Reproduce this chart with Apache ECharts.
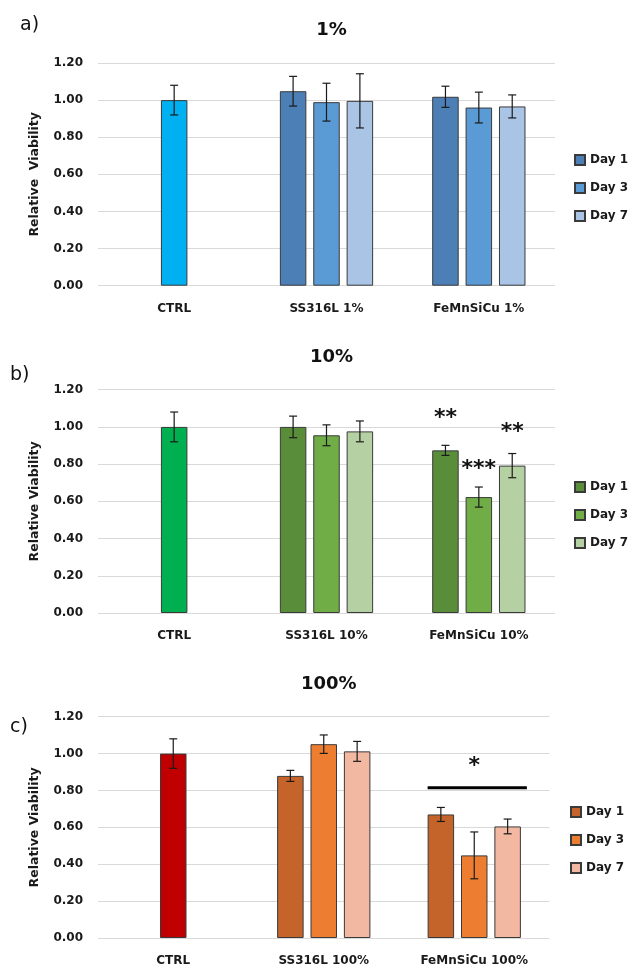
<!DOCTYPE html>
<html><head><meta charset="utf-8">
<script src="https://cdn.jsdelivr.net/npm/echarts@6/dist/echarts.min.js"></script>
<style>html,body{margin:0;padding:0;background:#fff}#c{width:629px;height:967px}</style>
</head><body><div id="c"></div>
<script>
// ---------- DATA ----------
const dayNames = ['Day 1', 'Day 3', 'Day 7'];
const yTickValues = [0, 0.2, 0.4, 0.6, 0.8, 1.0, 1.2];

// a) 1%
const categoriesA = ['CTRL', 'SS316L 1%', 'FeMnSiCu 1%'];
const ctrlA = [1.00, null, null];
const ctrlErrA = [0.08, null, null];
const day1A = [null, 1.048, 1.018];
const day3A = [null, 0.989, 0.960];
const day7A = [null, 0.996, 0.966];
const day1ErrA = [null, 0.080, 0.057];
const day3ErrA = [null, 0.102, 0.083];
const day7ErrA = [null, 0.146, 0.062];

// b) 10%
const categoriesB = ['CTRL', 'SS316L 10%', 'FeMnSiCu 10%'];
const ctrlB = [1.00, null, null];
const ctrlErrB = [0.08, null, null];
const day1B = [null, 1.000, 0.874];
const day3B = [null, 0.955, 0.623];
const day7B = [null, 0.976, 0.792];
const day1ErrB = [null, 0.058, 0.027];
const day3ErrB = [null, 0.056, 0.054];
const day7ErrB = [null, 0.056, 0.065];
// significance marks: [categoryIndex, dayIndex, yValue, text]
const starsB = [[2, 0, 1.064, '**'], [2, 1, 0.79, '***'], [2, 2, 0.989, '**']];

// c) 100%
const categoriesC = ['CTRL', 'SS316L 100%', 'FeMnSiCu 100%'];
const ctrlC = [1.00, null, null];
const ctrlErrC = [0.08, null, null];
const day1C = [null, 0.879, 0.670];
const day3C = [null, 1.051, 0.448];
const day7C = [null, 1.012, 0.605];
const day1ErrC = [null, 0.030, 0.038];
const day3ErrC = [null, 0.050, 0.127];
const day7ErrC = [null, 0.054, 0.040];
const starsC = [[2, 1, 0.949, '*']];
const sigLineC = [[2, 0.815]];

// ---------- STYLE ----------
const FONT = 'DejaVu Sans';
const BAR_W = 26.5;
const BAR_GAP = 0.26;
const PITCH = BAR_W * (1 + BAR_GAP);
const BORDER = '#3a3a3a';

const panels = [
  { key: 'a', title: '1%', letter: 'a)', cats: categoriesA, ctrl: ctrlA, ctrlErr: ctrlErrA,
    days: [day1A, day3A, day7A], errs: [day1ErrA, day3ErrA, day7ErrA],
    colors: ['#00B0F0', '#4C7FB6', '#5B9BD5', '#AAC4E6'], yName: 'Relative  Viability',
    grid: { left: 98, right: 74, top: 63, height: 222.7 },
    titleTop: 16, letterPos: { left: 15, top: 11 }, legendPos: { left: 574, top: 154 },
    stars: [], sigLine: [] },
  { key: 'b', title: '10%', letter: 'b)', cats: categoriesB, ctrl: ctrlB, ctrlErr: ctrlErrB,
    days: [day1B, day3B, day7B], errs: [day1ErrB, day3ErrB, day7ErrB],
    colors: ['#00B050', '#5A8D3A', '#70AD47', '#B5D1A4'], yName: 'Relative Viability',
    grid: { left: 98, right: 74, top: 389.7, height: 223.3 },
    titleTop: 343, letterPos: { left: 5, top: 361 }, legendPos: { left: 574, top: 481 },
    stars: starsB, sigLine: [] },
  { key: 'c', title: '100%', letter: 'c)', cats: categoriesC, ctrl: ctrlC, ctrlErr: ctrlErrC,
    days: [day1C, day3C, day7C], errs: [day1ErrC, day3ErrC, day7ErrC],
    colors: ['#C00000', '#C4642A', '#ED7D31', '#F3B8A2'], yName: 'Relative Viability',
    grid: { left: 98, right: 79.5, top: 716.7, height: 223.3 },
    titleTop: 670, letterPos: { left: 5, top: 713 }, legendPos: { left: 570, top: 806 },
    stars: starsC, sigLine: sigLineC }
];

const option = {
  animation: false,
  backgroundColor: '#fff',
  title: [], legend: [], grid: [], xAxis: [], yAxis: [], series: []
};

panels.forEach((p, gi) => {
  option.grid.push(Object.assign({ containLabel: false }, p.grid));
  const cx = p.grid.left + (629 - p.grid.left - p.grid.right) / 2;
  option.title.push({ text: p.title, left: cx, top: p.titleTop, textAlign: 'center',
    textStyle: { fontFamily: FONT, fontSize: 18, fontWeight: 'bold', color: '#111' } });
  option.title.push({ text: p.letter, left: p.letterPos.left, top: p.letterPos.top,
    textStyle: { fontFamily: FONT, fontSize: 19, fontWeight: 'normal', color: '#111' } });

  const xMain = option.xAxis.length;
  option.xAxis.push({ type: 'category', gridIndex: gi, data: p.cats,
    axisLine: { show: false }, axisTick: { show: false },
    axisLabel: { fontFamily: FONT, fontSize: 12, fontWeight: 'bold', color: '#1a1a1a', margin: 17, interval: 0 } });
  const xCtrl = option.xAxis.length;
  option.xAxis.push({ type: 'category', gridIndex: gi, data: p.cats, show: false });
  const yi = option.yAxis.length;
  option.yAxis.push({ type: 'value', gridIndex: gi, min: 0, max: 1.2, interval: 0.2,
    name: p.yName, nameLocation: 'middle', nameGap: 57,
    nameTextStyle: { fontFamily: FONT, fontSize: 12.5, fontWeight: 'bold', color: '#1a1a1a' },
    axisLine: { show: false }, axisTick: { show: false },
    splitLine: { lineStyle: { color: '#d9d9d9', width: 1.2 } },
    axisLabel: { fontFamily: FONT, fontSize: 12, fontWeight: 'bold', color: '#1a1a1a', margin: 15,
      formatter: v => v.toFixed(2) } });

  const names = dayNames.map(d => p.key + '|' + d);
  option.legend.push({ data: names, orient: 'vertical', left: p.legendPos.left, top: p.legendPos.top,
    padding: 0, itemWidth: 10, itemHeight: 10, itemGap: 16, icon: 'rect', selectedMode: false,
    formatter: n => n.split('|')[1],
    textStyle: { fontFamily: FONT, fontSize: 12, fontWeight: 'bold', color: '#1a1a1a' } });

  // CTRL bar (own hidden axis so it is centred)
  option.series.push({ type: 'bar', name: p.key + '|CTRL', xAxisIndex: xCtrl, yAxisIndex: yi,
    data: p.ctrl.map(v => v == null ? '-' : v), barWidth: BAR_W,
    itemStyle: { color: p.colors[0], borderColor: BORDER, borderWidth: 1 } });
  // day bars
  p.days.forEach((arr, di) => {
    option.series.push({ type: 'bar', name: names[di], xAxisIndex: xMain, yAxisIndex: yi,
      data: arr.map(v => v == null ? '-' : v), barWidth: BAR_W, barGap: (BAR_GAP * 100) + '%',
      itemStyle: { color: p.colors[di + 1], borderColor: BORDER, borderWidth: 1 } });
  });

  // error bars
  const errData = [];
  p.ctrl.forEach((v, ci) => { if (v != null) errData.push([ci, v, p.ctrlErr[ci], 0]); });
  p.days.forEach((arr, di) => arr.forEach((v, ci) => {
    if (v != null) errData.push([ci, v, p.errs[di][ci], di - 1]);
  }));
  option.series.push({ type: 'custom', name: p.key + '|err', xAxisIndex: xMain, yAxisIndex: yi, z: 10,
    data: errData, silent: true,
    renderItem: (params, api) => {
      const c = api.value(0), v = api.value(1), e = api.value(2), s = api.value(3);
      const t = api.coord([c, v + e]), b = api.coord([c, v - e]);
      const x = t[0] + s * PITCH, cap = 4;
      const st = { stroke: '#1a1a1a', lineWidth: 1.2 };
      return { type: 'group', children: [
        { type: 'line', shape: { x1: x, y1: t[1], x2: x, y2: b[1] }, style: st },
        { type: 'line', shape: { x1: x - cap, y1: t[1], x2: x + cap, y2: t[1] }, style: st },
        { type: 'line', shape: { x1: x - cap, y1: b[1], x2: x + cap, y2: b[1] }, style: st }
      ] };
    } });

  if (p.stars.length) {
    const starTexts = p.stars.map(s => s[3]);
    option.series.push({ type: 'custom', name: p.key + '|stars', xAxisIndex: xMain, yAxisIndex: yi, z: 11,
      data: p.stars.map(s => [s[0], s[2], s[1] - 1]), silent: true,
      renderItem: (params, api) => {
        const pt = api.coord([api.value(0), api.value(1)]);
        return { type: 'text', x: pt[0] + api.value(2) * PITCH, y: pt[1] + 3,
          style: { text: starTexts[params.dataIndex], fontFamily: FONT, fontSize: 22, fontWeight: 'bold',
            fill: '#111', align: 'center', verticalAlign: 'middle' } };
      } });
  }
  if (p.sigLine.length) {
    option.series.push({ type: 'custom', name: p.key + '|sig', xAxisIndex: xMain, yAxisIndex: yi, z: 11,
      data: p.sigLine, silent: true,
      renderItem: (params, api) => {
        const pt = api.coord([api.value(0), api.value(1)]);
        const half = 1.5 * BAR_W + BAR_GAP * BAR_W;
        return { type: 'line', shape: { x1: pt[0] - half, y1: pt[1], x2: pt[0] + half + 6, y2: pt[1] },
          style: { stroke: '#000', lineWidth: 3 } };
      } });
  }
});

const chart = echarts.init(document.getElementById('c'), null, { renderer: 'canvas' });
chart.setOption(option);
</script>
</body></html>
